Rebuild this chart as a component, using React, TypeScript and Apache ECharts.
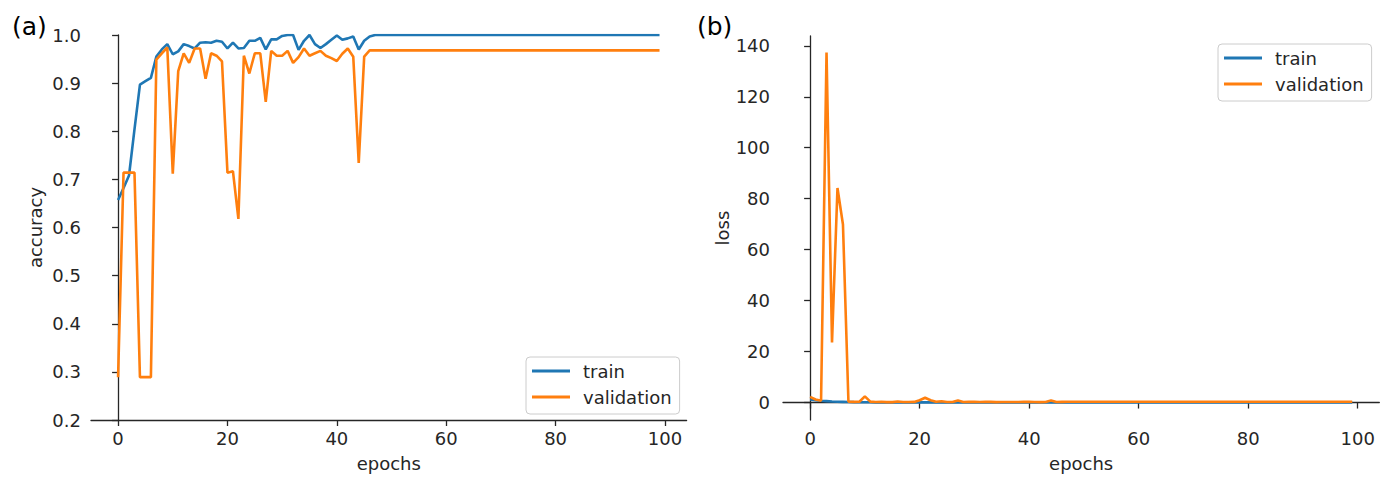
import React, { useEffect, useRef } from "react";
import * as echarts from "echarts";

// epochs are the array indices 0..99
const trainAcc = [
  0.657, 0.682, 0.708, 0.804, 0.897, 0.904, 0.911, 0.955, 0.970, 0.981,
  0.960, 0.966, 0.981, 0.977, 0.972, 0.984, 0.985, 0.984, 0.988, 0.986,
  0.972, 0.984, 0.972, 0.973, 0.988, 0.988, 0.994, 0.970, 0.991, 0.991,
  0.998, 1.0, 1.0, 0.969, 0.988, 1.0, 0.981, 0.973, 0.981, 0.990,
  0.999, 0.990, 0.993, 0.997, 0.970, 0.988, 0.997, 1.0, 1.0, 1.0,
  1.0, 1.0, 1.0, 1.0, 1.0, 1.0, 1.0, 1.0, 1.0, 1.0,
  1.0, 1.0, 1.0, 1.0, 1.0, 1.0, 1.0, 1.0, 1.0, 1.0,
  1.0, 1.0, 1.0, 1.0, 1.0, 1.0, 1.0, 1.0, 1.0, 1.0,
  1.0, 1.0, 1.0, 1.0, 1.0, 1.0, 1.0, 1.0, 1.0, 1.0,
  1.0, 1.0, 1.0, 1.0, 1.0, 1.0, 1.0, 1.0, 1.0, 1.0,
];

const valAcc = [
  0.289, 0.714, 0.714, 0.714, 0.289, 0.289, 0.289, 0.949, 0.962, 0.974,
  0.712, 0.925, 0.962, 0.942, 0.972, 0.972, 0.909, 0.962, 0.957, 0.945,
  0.714, 0.717, 0.618, 0.957, 0.920, 0.962, 0.962, 0.861, 0.967, 0.957,
  0.957, 0.967, 0.942, 0.954, 0.972, 0.957, 0.962, 0.967, 0.957, 0.952,
  0.946, 0.961, 0.972, 0.955, 0.734, 0.955, 0.968, 0.968, 0.968, 0.968,
  0.968, 0.968, 0.968, 0.968, 0.968, 0.968, 0.968, 0.968, 0.968, 0.968,
  0.968, 0.968, 0.968, 0.968, 0.968, 0.968, 0.968, 0.968, 0.968, 0.968,
  0.968, 0.968, 0.968, 0.968, 0.968, 0.968, 0.968, 0.968, 0.968, 0.968,
  0.968, 0.968, 0.968, 0.968, 0.968, 0.968, 0.968, 0.968, 0.968, 0.968,
  0.968, 0.968, 0.968, 0.968, 0.968, 0.968, 0.968, 0.968, 0.968, 0.968,
];

const trainLoss = [
  1.2, 0.9, 0.7, 0.55, 0.4, 0.3, 0.25, 0.2, 0.15, 0.12,
  0.14, 0.1, 0.08, 0.08, 0.09, 0.06, 0.06, 0.05, 0.05, 0.05,
  0.08, 0.05, 0.07, 0.06, 0.04, 0.04, 0.03, 0.07, 0.03, 0.03,
  0.02, 0.01, 0.01, 0.06, 0.03, 0.01, 0.04, 0.05, 0.04, 0.02,
  0.01, 0.02, 0.02, 0.01, 0.07, 0.03, 0.01, 0.0, 0.0, 0.0,
  0.0, 0.0, 0.0, 0.0, 0.0, 0.0, 0.0, 0.0, 0.0, 0.0,
  0.0, 0.0, 0.0, 0.0, 0.0, 0.0, 0.0, 0.0, 0.0, 0.0,
  0.0, 0.0, 0.0, 0.0, 0.0, 0.0, 0.0, 0.0, 0.0, 0.0,
  0.0, 0.0, 0.0, 0.0, 0.0, 0.0, 0.0, 0.0, 0.0, 0.0,
  0.0, 0.0, 0.0, 0.0, 0.0, 0.0, 0.0, 0.0, 0.0, 0.0,
];

const valLoss = [
  2.2, 1.2, 0.7, 137.4, 23.6, 84.2, 69.9, 0.3, 0.25, 0.3,
  2.4, 0.35, 0.2, 0.3, 0.15, 0.15, 0.4, 0.2, 0.2, 0.25,
  0.9, 1.9, 0.9, 0.3, 0.5, 0.2, 0.2, 0.8, 0.2, 0.25,
  0.25, 0.2, 0.3, 0.25, 0.15, 0.2, 0.2, 0.2, 0.2, 0.25,
  0.25, 0.2, 0.15, 0.2, 0.8, 0.2, 0.25, 0.3, 0.3, 0.3,
  0.3, 0.3, 0.3, 0.3, 0.3, 0.3, 0.3, 0.3, 0.3, 0.3,
  0.3, 0.3, 0.3, 0.3, 0.3, 0.3, 0.3, 0.3, 0.3, 0.3,
  0.3, 0.3, 0.3, 0.3, 0.3, 0.3, 0.3, 0.3, 0.3, 0.3,
  0.3, 0.3, 0.3, 0.3, 0.3, 0.3, 0.3, 0.3, 0.3, 0.3,
  0.3, 0.3, 0.3, 0.3, 0.3, 0.3, 0.3, 0.3, 0.3, 0.3,
];

const xTicks = [0, 20, 40, 60, 80, 100];
const accTicks = [0.2, 0.3, 0.4, 0.5, 0.6, 0.7, 0.8, 0.9, 1.0];
const lossTicks = [0, 20, 40, 60, 80, 100, 120, 140];
const seriesNames = ["train", "validation"];
const panelLabels = ["(a)", "(b)"];

const BLUE = "#1f77b4";
const ORANGE = "#ff7f0e";
const INK = "#262626";
const FONT = "DejaVu Sans";

export default function App() {
  const ref = useRef<HTMLDivElement>(null);

  useEffect(() => {
    if (!ref.current) return;
    const chart = echarts.init(ref.current, undefined, { renderer: "svg" });

    const axisLine = { show: true, lineStyle: { color: INK, width: 1.3 } };
    const xAxisBase = (gridIndex: number) => ({
      type: "value" as const,
      gridIndex,
      min: -4.95,
      max: 103.95,
      name: "epochs",
      nameLocation: "middle" as const,
      nameGap: 34,
      nameTextStyle: { fontFamily: FONT, fontSize: 18, color: INK },
      axisLine,
      axisTick: {
        show: true,
        length: 6,
        lineStyle: { color: INK, width: 1.3 },
        customValues: xTicks,
      },
      axisLabel: {
        fontFamily: FONT,
        fontSize: 18,
        color: INK,
        margin: 9,
        customValues: xTicks,
      },
      splitLine: { show: false },
    });

    const legendBase = (left: number, top: number) => ({
      left,
      top,
      orient: "vertical" as const,
      data: seriesNames,
      icon: "rect",
      itemWidth: 38,
      itemHeight: 3,
      itemGap: 6,
      padding: [4, 8, 7, 6],
      backgroundColor: "rgba(255,255,255,0.8)",
      borderColor: "#cccccc",
      borderWidth: 1,
      borderRadius: 4,
      selectedMode: false,
      textStyle: {
        fontFamily: FONT,
        fontSize: 18,
        color: INK,
        lineHeight: 20,
        padding: [0, 0, 0, 8],
      },
    });

    const lineSeries = (
      name: string,
      values: number[],
      color: string,
      idx: number
    ) => ({
      type: "line" as const,
      name,
      xAxisIndex: idx,
      yAxisIndex: idx,
      data: values.map((v, i) => [i, v]),
      showSymbol: false,
      symbol: "none",
      lineStyle: { color, width: 2.6 },
      itemStyle: { color },
      clip: true,
      z: name === "validation" ? 3 : 2,
    });

    chart.setOption({
      animation: false,
      backgroundColor: "#ffffff",
      grid: [
        { left: 91, top: 35, width: 595.6, height: 389, containLabel: false },
        { left: 783, top: 36, width: 596.3, height: 386.5, containLabel: false },
      ],
      xAxis: [xAxisBase(0), xAxisBase(1)],
      yAxis: [
        {
          type: "value",
          gridIndex: 0,
          min: 0.2,
          max: 1.0,
          name: "accuracy",
          nameLocation: "middle",
          nameGap: 47,
          nameTextStyle: { fontFamily: FONT, fontSize: 18, color: INK },
          axisLine,
          axisTick: {
            show: true,
            length: 6,
            lineStyle: { color: INK, width: 1.3 },
            customValues: accTicks,
          },
          axisLabel: {
            fontFamily: FONT,
            fontSize: 18,
            color: INK,
            margin: 10,
            customValues: accTicks,
            formatter: (v: number) => v.toFixed(1),
          },
          splitLine: { show: false },
        },
        {
          type: "value",
          gridIndex: 1,
          min: -6.85,
          max: 143.85,
          name: "loss",
          nameLocation: "middle",
          nameGap: 52,
          nameTextStyle: { fontFamily: FONT, fontSize: 18, color: INK },
          axisLine,
          axisTick: {
            show: true,
            length: 6,
            lineStyle: { color: INK, width: 1.3 },
            customValues: lossTicks,
          },
          axisLabel: {
            fontFamily: FONT,
            fontSize: 18,
            color: INK,
            margin: 13,
            customValues: lossTicks,
            formatter: (v: number) => String(Math.round(v)),
          },
          splitLine: { show: false },
        },
      ],
      legend: [legendBase(526, 357), legendBase(1218, 44)],
      series: [
        lineSeries(seriesNames[0], trainAcc, BLUE, 0),
        lineSeries(seriesNames[1], valAcc, ORANGE, 0),
        lineSeries(seriesNames[0], trainLoss, BLUE, 1),
        lineSeries(seriesNames[1], valLoss, ORANGE, 1),
      ],
      graphic: [
        {
          type: "text",
          left: 12,
          top: 14,
          style: { text: panelLabels[0], fontFamily: FONT, fontSize: 25, fill: "#000" },
        },
        {
          type: "text",
          left: 697,
          top: 14,
          style: { text: panelLabels[1], fontFamily: FONT, fontSize: 25, fill: "#000" },
        },
      ],
    });

    return () => chart.dispose();
  }, []);

  return (
    <div
      ref={ref}
      style={{ position: "fixed", left: 0, top: 0, width: 1389, height: 477 }}
    />
  );
}
